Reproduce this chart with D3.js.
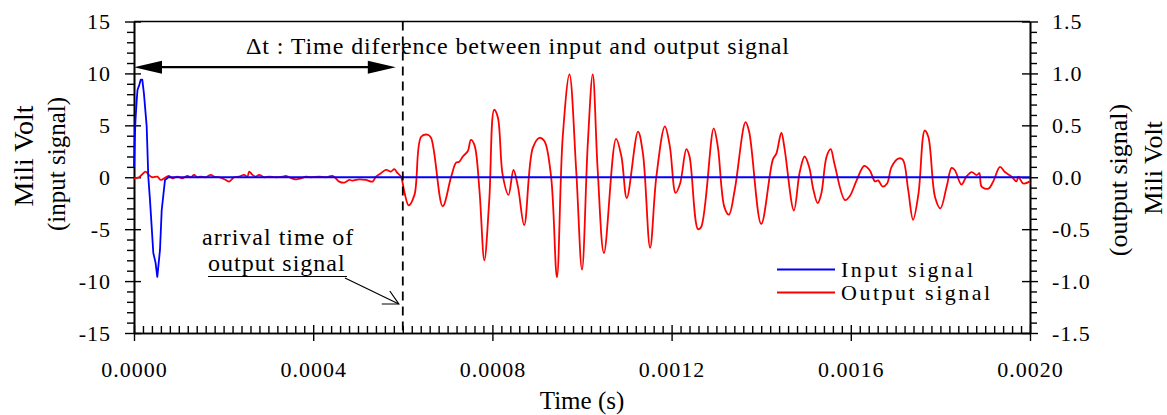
<!DOCTYPE html>
<html>
<head>
<meta charset="utf-8">
<script src="https://cdn.jsdelivr.net/npm/d3@7"></script>
<style>
  html, body { margin: 0; padding: 0; background: #fff; }
  svg { display: block; }
  text { font-family: "Liberation Serif", "Times New Roman", serif; fill: #000; }
</style>
</head>
<body>
<svg id="chart" width="1167" height="415"></svg>
<script>
// ---------------- data ----------------
const leftTicks = [-15, -10, -5, 0, 5, 10, 15];
const rightTicks = [-1.5, -1.0, -0.5, 0.0, 0.5, 1.0, 1.5];
const timeTicks = [0, 0.0004, 0.0008, 0.0012, 0.0016, 0.0020];
const arrivalTime = 0.0006;

// input signal (left axis, mV)
const inputTime = [0, 0.0000016, 0.0000033, 0.0000060, 0.0000078, 0.0000118, 0.0000150, 0.0000185,
  0.0000223, 0.0000283, 0.0000319, 0.0000357, 0.0000431, 0.0000480, 0.0000520, 0.0000580,
  0.0000618, 0.0000692, 0.0000766, 0.0002, 0.0006, 0.0010, 0.0014, 0.0018, 0.0020];
const inputMV = [1.0, 3.6, 5.5, 7.4, 8.4, 8.9, 9.4, 9.4,
  8.0, 4.9, 0.06, -2.2, -7.3, -8.2, -9.6, -7.0,
  -3.2, -0.26, 0, 0, 0, 0, 0, 0, 0];

// output signal (right axis, mV)
const outputTime = [0.0000000, 0.0000112, 0.0000261, 0.0000335, 0.0000410, 0.0000522, 0.0000596, 0.0000708,
  0.0000782, 0.0000857, 0.0000969, 0.0001080, 0.0001192, 0.0001266, 0.0001341, 0.0001415,
  0.0001490, 0.0001601, 0.0001713, 0.0001788, 0.0001899, 0.0002048, 0.0002123, 0.0002235,
  0.0002346, 0.0002458, 0.0002533, 0.0002570, 0.0002644, 0.0002719, 0.0002793, 0.0002905,
  0.0003017, 0.0003166, 0.0003315, 0.0003389, 0.0003464, 0.0003613, 0.0003725, 0.0003836,
  0.0003948, 0.0004134, 0.0004283, 0.0004432, 0.0004581, 0.0004693, 0.0004804, 0.0004879,
  0.0005028, 0.0005177, 0.0005326, 0.0005401, 0.0005512, 0.0005624, 0.0005736, 0.0005810,
  0.0005884, 0.0005959, 0.0006034, 0.000613, 0.000626, 0.000641, 0.000655, 0.000663,
  0.000689, 0.000708, 0.000719, 0.000726, 0.000734, 0.000745, 0.000752, 0.000760,
  0.000771, 0.000782, 0.000793, 0.000804, 0.000812, 0.000823, 0.000836, 0.000847,
  0.000857, 0.000871, 0.000890, 0.000905, 0.000916, 0.000931, 0.000944, 0.000957,
  0.000972, 0.000987, 0.001000, 0.001013, 0.001024, 0.001035, 0.001049, 0.001076,
  0.001088, 0.001100, 0.001125, 0.001136, 0.001152, 0.001166, 0.001185, 0.001196,
  0.001209, 0.001219, 0.001233, 0.001240, 0.001259, 0.001266, 0.001294, 0.001303,
  0.001318, 0.001328, 0.001341, 0.001365, 0.001373, 0.001400, 0.001426, 0.001434,
  0.001445, 0.001452, 0.001473, 0.001486, 0.001497, 0.001507, 0.001516, 0.001526,
  0.001534, 0.001546, 0.001555, 0.001564, 0.001587, 0.001598, 0.001613, 0.001630,
  0.001642, 0.001654, 0.001661, 0.001671, 0.001681, 0.001691, 0.001706, 0.001716,
  0.001728, 0.001739, 0.001751, 0.001765, 0.001773, 0.001788, 0.001800, 0.001814,
  0.001825, 0.001832, 0.001847, 0.001858, 0.001870, 0.001881, 0.001887, 0.001892,
  0.001907, 0.001918, 0.001933, 0.001944, 0.001959, 0.001970, 0.001974, 0.001985,
  0.002000];
const outputMV = [-0.01, 0.0, 0.055, 0.02, 0.0, 0.006, -0.026, 0.0,
  0.013, -0.01, 0.006, -0.01, 0.013, 0.0, 0.023, 0.0,
  0.006, 0.0, 0.023, 0.006, 0.0, -0.026, -0.042, 0.0,
  0.006, 0.023, 0.006, 0.055, 0.023, 0.006, 0.023, 0.0,
  0.006, 0.0, 0.006, 0.013, 0.0, -0.02, -0.01, 0.006,
  0.0, 0.006, 0.0, 0.013, -0.042, -0.052, -0.026, -0.032,
  -0.02, -0.026, -0.042, 0.006, 0.039, 0.071, 0.055, 0.078,
  0.039, 0.006, -0.14, -0.27, -0.17, 0.39, 0.41, 0.38,
  -0.28, 0.006, 0.14, 0.15, 0.20, 0.25, 0.36, 0.31,
  -0.12, -0.80, -0.22, 0.65, 0.58, 0.02, -0.17, 0.07,
  -0.09, -0.46, 0.28, 0.38, 0.35, 0.006, -0.965, 0.39,
  0.99, 0.07, -0.89, 0.33, 0.99, 0.07, -0.73, 0.37,
  0.20, -0.20, 0.44, 0.23, -0.68, 0.006, 0.49, 0.30,
  -0.15, -0.06, 0.27, 0.20, -0.50, -0.48, 0.47, 0.30,
  -0.29, -0.36, -0.12, 0.53, 0.44, -0.45, 0.17, 0.23,
  0.43, 0.28, -0.32, 0.05, 0.20, 0.10, -0.11, -0.25,
  -0.16, 0.20, 0.27, 0.12, -0.22, -0.18, -0.03, 0.11,
  0.07, -0.04, -0.03, -0.09, -0.06, 0.10, 0.18, 0.17,
  -0.12, -0.41, -0.16, 0.45, 0.39, -0.19, -0.30, -0.09,
  0.09, 0.07, -0.07, 0.006, 0.05, 0.02, 0.04, -0.09,
  -0.11, -0.04, 0.10, 0.05, 0.006, -0.04, 0.006, -0.06,
  -0.04];

const legendLabels = ["Input signal", "Output signal"];
const colors = { input: "#0000ff", output: "#ff0000" };

// ---------------- layout ----------------
const svg = d3.select("#chart");
const X0 = 134, X1 = 1030, Y0 = 21.5, Y1 = 333;

const x = d3.scaleLinear().domain([0, 0.002]).range([X0, X1]);
const yL = d3.scaleLinear().domain([-15, 15]).range([Y1, Y0]);
const yR = d3.scaleLinear().domain([-1.5, 1.5]).range([Y1, Y0]);

const FS = 22;
function styleAxis(g) {
  g.selectAll("path.domain").attr("stroke", "#000").attr("stroke-width", 1.6);
  g.selectAll(".tick line").attr("stroke", "#000").attr("stroke-width", 1.4);
  g.selectAll(".tick text").attr("font-size", FS).attr("font-family", "Liberation Serif").attr("letter-spacing", "1px").attr("fill", "#000");
}

// top frame line
svg.append("line").attr("x1", X0).attr("x2", X1).attr("y1", Y0).attr("y2", Y0)
  .attr("stroke", "#000").attr("stroke-width", 1.6);

// left axis
const leftMinor = d3.range(-15, 16, 1).filter(v => v % 5 !== 0);
svg.append("g").attr("transform", `translate(${X0},0)`)
  .call(d3.axisLeft(yL).tickValues(leftMinor).tickSize(7).tickSizeOuter(0).tickFormat(""))
  .call(styleAxis);
const gL = svg.append("g").attr("transform", `translate(${X0},0)`)
  .call(d3.axisLeft(yL).tickValues(leftTicks).tickSize(9).tickSizeOuter(0).tickPadding(14).tickFormat(d => String(d)))
  .call(styleAxis);
gL.selectAll(".tick line").attr("x1", 7);

// right axis
const rightMinor = d3.range(-15, 16, 1).filter(v => v % 5 !== 0).map(v => v / 10);
svg.append("g").attr("transform", `translate(${X1},0)`)
  .call(d3.axisRight(yR).tickValues(rightMinor).tickSize(7).tickSizeOuter(0).tickFormat(""))
  .call(styleAxis);
const gR = svg.append("g").attr("transform", `translate(${X1},0)`)
  .call(d3.axisRight(yR).tickValues(rightTicks).tickSize(8).tickSizeOuter(0).tickPadding(14).tickFormat(d => d.toFixed(1)))
  .call(styleAxis);
gR.selectAll(".tick line").attr("x1", -8);

// bottom axis
const timeMinor = d3.range(0, 101, 1).filter(i => i % 20 !== 0).map(i => i * 0.00002);
svg.append("g").attr("transform", `translate(0,${Y1})`)
  .call(d3.axisBottom(x).tickValues(timeMinor).tickSize(-7).tickSizeOuter(0).tickFormat(""))
  .call(styleAxis);
const gB = svg.append("g").attr("transform", `translate(0,${Y1})`)
  .call(d3.axisBottom(x).tickValues(timeTicks).tickSize(8).tickSizeOuter(0).tickPadding(20).tickFormat(d => d.toFixed(4)))
  .call(styleAxis);
gB.selectAll(".tick line").attr("y1", -8);

// axis titles
svg.append("text").attr("transform", `translate(${(X0 + X1) / 2},409)`)
  .attr("text-anchor", "middle").attr("font-size", 25).text("Time (s)");
svg.append("text").attr("transform", "translate(33,156) rotate(-90)")
  .attr("text-anchor", "middle").attr("font-size", 28).text("Mili Volt");
svg.append("text").attr("transform", "translate(65,164) rotate(-90)")
  .attr("text-anchor", "middle").attr("font-size", 25).text("(input signal)");
svg.append("text").attr("transform", "translate(1127,180) rotate(-90)")
  .attr("text-anchor", "middle").attr("font-size", 26).text("(output signal)");
svg.append("text").attr("transform", "translate(1162,168) rotate(-90)")
  .attr("text-anchor", "middle").attr("font-size", 26).text("Mili Volt");

// ---------------- series ----------------
const clip = svg.append("clipPath").attr("id", "plotclip").append("rect")
  .attr("x", X0).attr("y", Y0).attr("width", X1 - X0 + 2).attr("height", Y1 - Y0);

const outData = outputTime.map((t, i) => [t, outputMV[i]]);
const inData = inputTime.map((t, i) => [t, inputMV[i]]);

svg.append("path").datum(outData)
  .attr("fill", "none").attr("stroke", colors.output).attr("stroke-width", 1.8)
  .attr("stroke-linejoin", "round")
  .attr("d", d3.line().x(d => x(d[0])).y(d => yR(d[1])).curve(d3.curveCatmullRom.alpha(0.5)));

svg.append("path").datum(inData)
  .attr("fill", "none").attr("stroke", colors.input).attr("stroke-width", 1.8)
  .attr("stroke-linejoin", "round")
  .attr("d", d3.line().x(d => x(d[0])).y(d => yL(d[1])).curve(d3.curveLinear));

// ---------------- annotations ----------------
const xa = x(arrivalTime);
svg.append("line").attr("x1", xa).attr("x2", xa).attr("y1", Y0).attr("y2", Y1)
  .attr("stroke", "#000").attr("stroke-width", 1.8).attr("stroke-dasharray", "9,6");

// Δt double arrow
const ay = yL(10.6);
const aL = X0, aR = xa - 7;
svg.append("line").attr("x1", aL + 20).attr("x2", aR - 20).attr("y1", ay).attr("y2", ay)
  .attr("stroke", "#000").attr("stroke-width", 2.2);
svg.append("path").attr("d", `M${aL},${ay} L${aL + 28},${ay - 6.5} L${aL + 28},${ay + 6.5} Z`).attr("fill", "#000");
svg.append("path").attr("d", `M${aR},${ay} L${aR - 28},${ay - 6.5} L${aR - 28},${ay + 6.5} Z`).attr("fill", "#000");
svg.append("text").attr("x", 246).attr("y", 54).attr("font-size", 24).attr("letter-spacing", "0.9px")
  .text("\u0394t : Time diference between input and output signal");

// arrival time annotation
svg.append("text").attr("x", 202).attr("y", 245).attr("font-size", 24).attr("letter-spacing", "1px")
  .text("arrival time of");
svg.append("text").attr("x", 208).attr("y", 271).attr("font-size", 24).attr("letter-spacing", "1px")
  .text("output signal");
svg.append("line").attr("x1", 208).attr("x2", 347).attr("y1", 276.5).attr("y2", 276.5)
  .attr("stroke", "#000").attr("stroke-width", 1.2);
const tipX = xa - 4, tipY = 304;
svg.append("line").attr("x1", 345).attr("y1", 278).attr("x2", tipX).attr("y2", tipY)
  .attr("stroke", "#000").attr("stroke-width", 1.2);
svg.append("path").attr("d", `M${tipX - 17},${tipY} L${tipX},${tipY} L${tipX - 9},${tipY - 13}`)
  .attr("fill", "none").attr("stroke", "#000").attr("stroke-width", 1.2);

// legend
const leg = svg.append("g");
[colors.input, colors.output].forEach((c, i) => {
  const yy = 269.5 + i * 23;
  leg.append("line").attr("x1", 777).attr("x2", 835).attr("y1", yy).attr("y2", yy)
    .attr("stroke", c).attr("stroke-width", 1.8);
  leg.append("text").attr("x", 841).attr("y", yy + 7).attr("font-size", 22).attr("letter-spacing", "2.5px")
    .text(legendLabels[i]);
});
</script>
</body>
</html>
